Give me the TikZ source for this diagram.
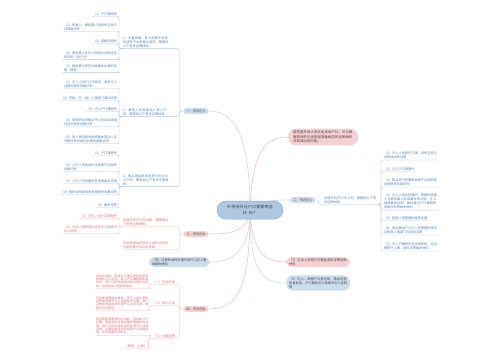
\documentclass[tikz,border=0pt]{standalone}
\usepackage{fontspec}
\newfontfamily\cjk{Noto Sans CJK SC}
\XeTeXlinebreaklocale "zh"
\XeTeXlinebreakskip = 0pt plus 1pt
\usetikzlibrary{backgrounds}
\definecolor{rootblue}{HTML}{AFC8E2}
\definecolor{rootline}{HTML}{8DAED2}
\definecolor{topblue}{HTML}{CCDDEE}
\definecolor{toppink}{HTML}{F6D0D2}
\definecolor{leafblue}{HTML}{4F7DB8}
\definecolor{leafpink}{HTML}{D8676E}
\definecolor{linegray}{HTML}{D3D8DE}
\definecolor{linepink}{HTML}{F0BFC1}
\definecolor{brblue}{HTML}{B2C7E0}
\definecolor{brpink}{HTML}{EFB6B9}
\tikzset{
  smalltxt/.style={font=\cjk\fontsize{3.2}{4.1}\selectfont},
  root/.style={fill=rootblue,draw=rootline,line width=0.5pt,rounded corners=9pt,
    text width=48pt,align=center,inner xsep=9pt,inner ysep=2pt,minimum height=18pt,
    font=\cjk\fontsize{4}{5.2}\selectfont,text=black!75},
  topic/.style={smalltxt,rounded corners=3pt,inner xsep=3pt,inner ysep=1.3pt,text=black!75},
  blue topic/.style={topic,fill=topblue},
  pink topic/.style={topic,fill=toppink},
  leaf/.style={smalltxt,inner sep=0.8pt,align=left},
  bleaf/.style={leaf,text=leafblue},
  pleaf/.style={leaf,text=leafpink},
  block/.style={font=\cjk\fontsize{3}{3.4}\selectfont,text width=53pt},
  oneln/.style={},
  twoln/.style={text width=53pt},
  mainb/.style={draw=linegray,line width=0.6pt},
  mainp/.style={draw=linepink,line width=0.6pt},
  bbr/.style={draw=brblue,line width=0.35pt,rounded corners=1.5pt},
  pbr/.style={draw=brpink,line width=0.35pt,rounded corners=1.5pt}
}

\begin{document}
\begin{tikzpicture}[x=1pt,y=-1pt]
  \useasboundingbox (0,0) rectangle (500,360);

  \node[root] (root) at (250,210) {外地市外迁户口需要哪些\\材料？};

  % main topics
  \node[blue topic] (b1) at (196,111) {一、市外迁入};
  \node[blue topic,anchor=west] (b2) at (290,200) {二、市内迁入};
  \node[pink topic] (b3) at (196,234) {三、市内迁出};
  \node[pink topic] (b4) at (196,309) {四、市外迁出};
  \node[blue topic,anchor=east,text width=55pt,align=left,rounded corners=6pt] (b5) at (210,262)
    {（五）迁居外地时办理外地户口迁入需准备的材料};
  \node[pink topic,anchor=west,text width=60pt,align=left,rounded corners=8pt,
    inner xsep=5pt,inner ysep=2.5pt,font=\cjk\fontsize{3.4}{4.4}\selectfont] (r1) at (288,137)
    {若您是外地人员迁出本地户口，可以根据具体的迁出类型准备相应的证明材料并到派出所办理。};
  \node[pink topic,anchor=west,text width=58pt,align=left,rounded corners=6pt] (r7) at (286,262)
    {（7）迁出人员原户口簿及身份证等证明材料};
  \node[blue topic,anchor=west,text width=58pt,align=left,rounded corners=7pt,inner ysep=2pt] (r3) at (286,283)
    {（3）迁入、申报户口登记的，需出示居民身份证、户口簿及迁入地准予迁入证明等};

  % 一
  \node[bleaf,anchor=east,text width=46pt] (s1) at (170,42)
    {1、夫妻投靠、老人投靠子女及未成年子女投靠父母的，需提供以下有关证明材料：};
  \node[bleaf,anchor=east,text width=46pt] (s2) at (170,112)
    {2、录用人员及调动人员入户的，需提供以下有关证明材料：};
  \node[bleaf,anchor=east,text width=46pt] (s3) at (170,180)
    {3、购买商品房及投资兴办企业入户的，需提供以下有关证明材料：};
  \foreach \s in {s1,s2,s3}
    \draw[bbr] (b1.west) -- ++(-4,0) |- (\s.south east) -- (\s.south west);

  \foreach \n/\yy/\st/\txt in {
    1/14/oneln/{（1）户口簿原件},
    2/27/twoln/{（2）申请人、被投靠人的身份证及户口簿复印件},
    3/41/oneln/{（3）结婚证原件},
    4/55/twoln/{（4）被投靠人在迁入地的合法固定住所证明（房产证）},
    5/68/twoln/{（5）被投靠人所在地居委会出具的证明（原件）}}{
    \node[bleaf,\st,anchor=east] (s1\n) at (118,\yy) {\txt};
    \draw[bbr] (s1.south west) -- ++(-3,0) |- (s1\n.south east) -- (s1\n.south west);
  }
  \foreach \n/\yy/\st/\txt in {
    1/84/twoln/{（1）迁入人员户口迁移证、准予迁入证明的原件及复印件},
    2/98/oneln/{（2）市级、区（县）人事部门调动证明},
    3/109/oneln/{（3）迁入户口簿原件},
    4/122/twoln/{（4）持有职业资格证书人员应出具相应证书原件及复印件},
    5/139/twoln/{（5）用人单位营业执照副本或法人证书复印件及单位出具的接收证明}}{
    \node[bleaf,\st,anchor=east] (s2\n) at (118,\yy) {\txt};
    \draw[bbr] (s2.south west) -- ++(-3,0) |- (s2\n.south east) -- (s2\n.south west);
  }
  \foreach \n/\yy/\st/\txt in {
    1/153/oneln/{（1）户口簿原件},
    2/167/twoln/{（2）入户人员的身份证及房产证原件及复印件},
    3/181/oneln/{（3）入户人员房屋所在地居委会证明},
    4/192/oneln/{（4）购房合同及购房发票原件及复印件},
    5/205/oneln/{（5）相关证明}}{
    \node[bleaf,\st,anchor=east] (s3\n) at (118,\yy) {\txt};
    \draw[bbr] (s3.south west) -- ++(-3,0) |- (s3\n.south east) -- (s3\n.south west);
  }

  % 二
  \node[bleaf,anchor=west,text width=53pt] (m) at (323,200)
    {办理市内户口迁入的，需提供以下有关证明材料：};
  \draw[bbr] (b2.east) -- ++(3,0) |- (m.south west) -- (m.south east);
  \foreach \n/\yy/\st/\txt in {
    1/155.5/twoln/{（1）迁入人员原户口簿、身份证及迁出地派出所证明},
    2/169/oneln/{（2）迁入户口簿原件},
    3/182.5/twoln/{（3）购买房产的需提供房产证及购房合同原件及复印件},
    4/201.5/twoln/{（4）迁入人员系投靠的，需提供投靠人与被投靠人的亲属关系证明、迁入地居委会证明、被投靠人户口簿原件及复印件等相关材料},
    5/218/oneln/{（5）租房人员需提供租赁证明},
    6/230.5/twoln/{（6）单位集体户口迁入的需提供单位证明及人事部门的调动证明},
    7/246.5/twoln/{（7）迁入户籍所在地派出所的，应当携带户口簿、身份证等相关材料}}{
    \node[bleaf,\st,anchor=west] (m\n) at (383,\yy) {\txt};
    \draw[bbr] (m.south east) -- ++(3,0) |- (m\n.south west) -- (m\n.south east);
  }

  % 三
  \node[pleaf,anchor=east,text width=46pt] (t1) at (170,222)
    {办理市内户口迁出的，需提供以下有关证明材料：};
  \node[pleaf,anchor=east,text width=46pt] (t2) at (170,245)
    {迁出地派出所凭以上材料为迁出人员办理户口迁出手续。};
  \foreach \s in {t1,t2}
    \draw[pbr] (b3.west) -- ++(-4,0) |- (\s.south east) -- (\s.south west);
  \foreach \n/\yy/\st/\txt in {
    1/216/oneln/{（1）迁出人员户口簿原件},
    2/229/twoln/{（2）迁出人员的身份证及迁入地准予迁入证明}}{
    \node[pleaf,\st,anchor=east] (t1\n) at (118,\yy) {\txt};
    \draw[pbr] (t1.south west) -- ++(-3,0) |- (t1\n.south east) -- (t1\n.south west);
  }

  % 四
  \node[pleaf,anchor=east] (f1) at (176,282) {（一）迁往外省};
  \node[pleaf,anchor=east] (f2) at (176,303) {（二）省内迁出};
  \node[pleaf,anchor=east] (f3) at (176,336) {（三）出国定居};
  \foreach \s in {f1,f2,f3}
    \draw[pbr] (b4.west) -- ++(-4,0) |- (\s.south east) -- (\s.south west);
  \node[pleaf,block,anchor=east] (g1) at (150,281)
    {迁往外省的，应持迁入地公安机关签发的准予迁入证明、本人户口簿和居民身份证，到户口所在地派出所办理迁出手续，并交回本人居民身份证。};
  \node[pleaf,block,anchor=east] (g2) at (150,303)
    {迁往本省其他市县的，凭迁入地公安机关签发的准予迁入证明及户口簿，到户口所在地派出所办理户口迁出手续，领取户口迁移证。};
  \node[pleaf,block,anchor=east] (g3) at (150,326)
    {因出国定居等原因迁出的，应持本人户口簿、居民身份证及出国护照或有关证明，到户口所在地派出所办理户口注销手续，注销后由派出所出具户口注销证明，并交回居民身份证。};
  \node[pleaf,anchor=east] (g4) at (148,346) {（附件：上表）};
  \draw[pbr] (f1.south west) -- ++(-3,0) |- (g1.south east) -- (g1.south west);
  \draw[pbr] (f2.south west) -- ++(-3,0) |- (g2.south east) -- (g2.south west);
  \draw[pbr] (f3.south west) -- ++(-3,0) |- (g3.south east) -- (g3.south west);
  \draw[pbr] (f3.south west) -- ++(-3,0) |- (g4.south east) -- (g4.south west);

  % main curves
  \begin{scope}[on background layer]
    \draw[mainb] (root.center) .. controls (250,130) and (232,111) .. (b1.east);
    \draw[mainp] (root.center) .. controls (252,150) and (266,137) .. (r1.west);
    \draw[mainb] (root.center) .. controls (258,200) and (276,200) .. (b2.west);
    \draw[mainp] (root.center) .. controls (248,232) and (230,234) .. (b3.east);
    \draw[mainb] (root.center) .. controls (250,252) and (232,262) .. (b5.east);
    \draw[mainp] (root.center) .. controls (250,292) and (236,309) .. (b4.east);
    \draw[mainp] (root.center) .. controls (252,252) and (264,262) .. (r7.west);
    \draw[mainb] (root.center) .. controls (250,272) and (262,283) .. (r3.west);
  \end{scope}
\end{tikzpicture}
\end{document}
